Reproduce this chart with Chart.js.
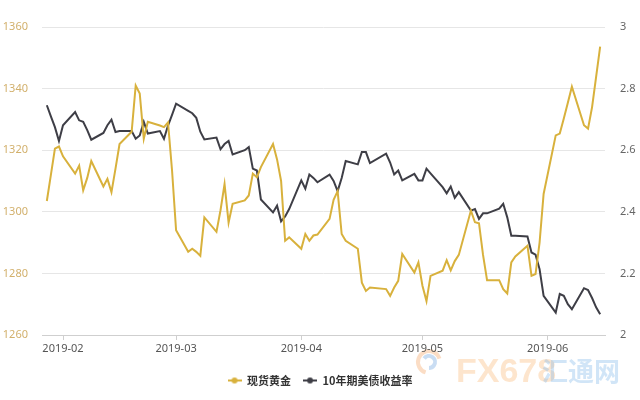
<!DOCTYPE html>
<html><head><meta charset="utf-8">
<style>html,body{margin:0;padding:0;background:#fff;}#wrap{width:640px;height:400px;}</style>
<script src="https://cdn.jsdelivr.net/npm/chart.js@4.4.1/dist/chart.umd.min.js"></script>
</head><body><div id="wrap"><canvas id="c" width="640" height="400"></canvas></div>
<script>
const dates = [
'2019-01-28','2019-01-29','2019-01-30','2019-01-31',
'2019-02-01','2019-02-04','2019-02-05','2019-02-06','2019-02-07','2019-02-08','2019-02-11','2019-02-12','2019-02-13','2019-02-14','2019-02-15','2019-02-18','2019-02-19','2019-02-20','2019-02-21','2019-02-22','2019-02-25','2019-02-26','2019-02-27','2019-02-28',
'2019-03-01','2019-03-04','2019-03-05','2019-03-06','2019-03-07','2019-03-08','2019-03-11','2019-03-12','2019-03-13','2019-03-14','2019-03-15','2019-03-18','2019-03-19','2019-03-20','2019-03-21','2019-03-22','2019-03-25','2019-03-26','2019-03-27','2019-03-28','2019-03-29',
'2019-04-01','2019-04-02','2019-04-03','2019-04-04','2019-04-05','2019-04-08','2019-04-09','2019-04-10','2019-04-11','2019-04-12','2019-04-15','2019-04-16','2019-04-17','2019-04-18','2019-04-22','2019-04-23','2019-04-24','2019-04-25','2019-04-26','2019-04-29','2019-04-30',
'2019-05-01','2019-05-02','2019-05-03','2019-05-06','2019-05-07','2019-05-08','2019-05-09','2019-05-10','2019-05-13','2019-05-14','2019-05-15','2019-05-16','2019-05-17','2019-05-20','2019-05-21','2019-05-22','2019-05-23','2019-05-24','2019-05-27','2019-05-28','2019-05-29','2019-05-30','2019-05-31',
'2019-06-03','2019-06-04','2019-06-05','2019-06-06','2019-06-07','2019-06-10','2019-06-11','2019-06-12','2019-06-13','2019-06-14'
];
const goldSpot = [
1303.5,1312,1320.5,1321.2,
1318,1312.4,1315,1307,1311,1316.5,1308.2,1310.7,1306.4,1314,1322,1326,1341,1338.4,1323.7,1329.2,1328,1327.5,1329,1313.4,
1294,1287,1288,1287,1285.7,1298.2,1293.5,1300.5,1309,1296.5,1302.6,1303.7,1305.3,1312.4,1311.2,1314.5,1322,1317,1310,1290.6,1291.7,
1288,1292.8,1290.6,1292.3,1292.6,1297.7,1303.9,1306.7,1292.8,1290.6,1288,1277,1274.3,1275.4,1274.9,1272.7,1275.4,1277.6,1286.3,1280.3,1283.6,
1276,1271,1279.2,1280.9,1284.3,1281,1284,1286,1300.4,1296.6,1296.3,1286,1277.8,1277.8,1274.9,1273.5,1283.6,1285.5,1289,1279.2,1279.8,1290,1305.8,
1324.8,1325.4,1330.3,1335.4,1340.6,1328.1,1327,1334,1343.8,1353.6
];
const us10y = [
2.746,2.71,2.675,2.630,
2.681,2.724,2.697,2.692,2.665,2.634,2.656,2.681,2.699,2.659,2.662,2.662,2.637,2.648,2.692,2.654,2.662,2.637,2.68,2.715,
2.751,2.728,2.72,2.705,2.66,2.635,2.641,2.603,2.62,2.630,2.586,2.60,2.610,2.540,2.534,2.44,2.398,2.420,2.369,2.385,2.409,
2.502,2.475,2.521,2.51,2.496,2.521,2.50,2.467,2.51,2.565,2.554,2.594,2.594,2.558,2.589,2.56,2.521,2.534,2.502,2.523,2.502,
2.502,2.540,2.525,2.48,2.460,2.482,2.445,2.464,2.404,2.409,2.377,2.395,2.395,2.41,2.426,2.382,2.322,2.322,2.320,2.268,2.261,2.214,2.127,
2.073,2.133,2.127,2.10,2.084,2.152,2.146,2.12,2.09,2.067
];
const monthTicks = ['2019-02-01','2019-03-01','2019-04-01','2019-05-01','2019-06-01'];
const monthLabels = ['2019-02','2019-03','2019-04','2019-05','2019-06'];
const leftTicks = [1260,1280,1300,1320,1340,1360];
const leftTickLabels = ['1260','1280','1300','1320','1340','1360'];
const rightTicks = [2,2.2,2.4,2.6,2.8,3];
const rightTickLabels = ['2','2.2','2.4','2.6','2.8','3'];
const seriesNames = ['现货黄金','10年期美债收益率'];
const seriesColors = ['#d8b13c','#3e3e46'];

const DAY = 86400000;
const base = Date.parse('2019-02-01');
const toDay = s => (Date.parse(s) - base) / DAY;

function marker(color){
  const c = document.createElement('canvas');
  c.width = 14; c.height = 8;
  const g = c.getContext('2d');
  g.strokeStyle = color; g.lineWidth = 2;
  g.beginPath(); g.moveTo(0,4); g.lineTo(14,4); g.stroke();
  g.fillStyle = color; g.beginPath(); g.arc(7,4,3,0,Math.PI*2); g.fill();
  return c;
}
const markers = seriesColors.map(marker);

const watermark = {
  id: 'watermark',
  beforeDraw(chart){
    const ctx = chart.ctx;
    ctx.save();
    ctx.lineWidth = 4;
    ctx.strokeStyle = 'rgba(246,170,110,0.4)';
    ctx.beginPath(); ctx.arc(429,362,11,Math.PI*0.6,Math.PI*1.9); ctx.stroke();
    ctx.strokeStyle = 'rgba(120,170,225,0.4)';
    ctx.beginPath(); ctx.arc(429,362,6,Math.PI*1.2,Math.PI*2.5); ctx.stroke();
    ctx.fillStyle = 'rgba(250,190,130,0.4)';
    ctx.font = 'bold 34px "Liberation Sans Narrow", "Liberation Sans", sans-serif';
    ctx.textBaseline = 'alphabetic';
    ctx.fillText('FX678', 456, 382);
    ctx.fillStyle = 'rgba(140,190,235,0.4)';
    ctx.font = 'bold 26px "Noto Sans CJK SC", sans-serif';
    ctx.fillText('汇通网', 542, 381);
    ctx.restore();
  }
};

new Chart(document.getElementById('c'), {
  type: 'line',
  data: {
    datasets: [
      { label: seriesNames[0], data: dates.map((d,i)=>({x: toDay(d), y: goldSpot[i]})), yAxisID: 'y',
        borderColor: seriesColors[0], backgroundColor: seriesColors[0], borderWidth: 2, pointRadius: 0, tension: 0 },
      { label: seriesNames[1], data: dates.map((d,i)=>({x: toDay(d), y: us10y[i]})), yAxisID: 'y1',
        borderColor: seriesColors[1], backgroundColor: seriesColors[1], borderWidth: 2, pointRadius: 0, tension: 0 }
    ]
  },
  options: {
    responsive: false,
    animation: false,
    devicePixelRatio: 1,
    layout: { padding: { top: 27, left: 0, right: 0, bottom: 4 } },
    scales: {
      x: {
        type: 'linear', min: -5.2, max: 134.2,
        afterBuildTicks: s => { s.ticks = monthTicks.map(m => ({ value: toDay(m) })); },
        afterFit: s => { s.height = 28; },
        ticks: { autoSkip: false, maxRotation: 0, color: '#555', padding: 2,
          font: { family: '"Noto Sans", sans-serif', size: 11 },
          callback: (v, i) => monthLabels[i] },
        grid: { display: true, drawOnChartArea: false, drawTicks: true, tickLength: 5, color: '#cfcfcf' },
        border: { display: true, color: '#cfcfcf' }
      },
      y: {
        position: 'left', min: 1260, max: 1360,
        afterBuildTicks: s => { s.ticks = leftTicks.map(v => ({ value: v })); },
        afterFit: s => { s.width = 42; },
        ticks: { color: '#d2b06c', padding: 14, font: { family: '"Noto Sans", sans-serif', size: 11 },
          callback: (v, i) => leftTickLabels[i] },
        grid: { color: '#e6e6e6', drawTicks: false },
        border: { display: false }
      },
      y1: {
        position: 'right', min: 2, max: 3,
        afterBuildTicks: s => { s.ticks = rightTicks.map(v => ({ value: v })); },
        afterFit: s => { s.width = 35; },
        ticks: { color: '#666', padding: 15, font: { family: '"Noto Sans", sans-serif', size: 11 },
          callback: (v, i) => rightTickLabels[i] },
        grid: { display: false, drawTicks: false },
        border: { display: false }
      }
    },
    plugins: {
      tooltip: { enabled: false },
      legend: {
        position: 'bottom',
        labels: {
          usePointStyle: true, pointStyleWidth: 14, padding: 12, color: '#333',
          font: { family: '"Noto Sans CJK SC", sans-serif', size: 11, weight: 'bold' },
          generateLabels: chart => chart.data.datasets.map((ds, i) => ({
            text: ds.label, fillStyle: ds.borderColor, strokeStyle: ds.borderColor, lineWidth: 0,
            pointStyle: markers[i], hidden: false, datasetIndex: i, fontColor: '#333'
          }))
        }
      }
    }
  },
  plugins: [watermark]
});
</script>
</body></html>
